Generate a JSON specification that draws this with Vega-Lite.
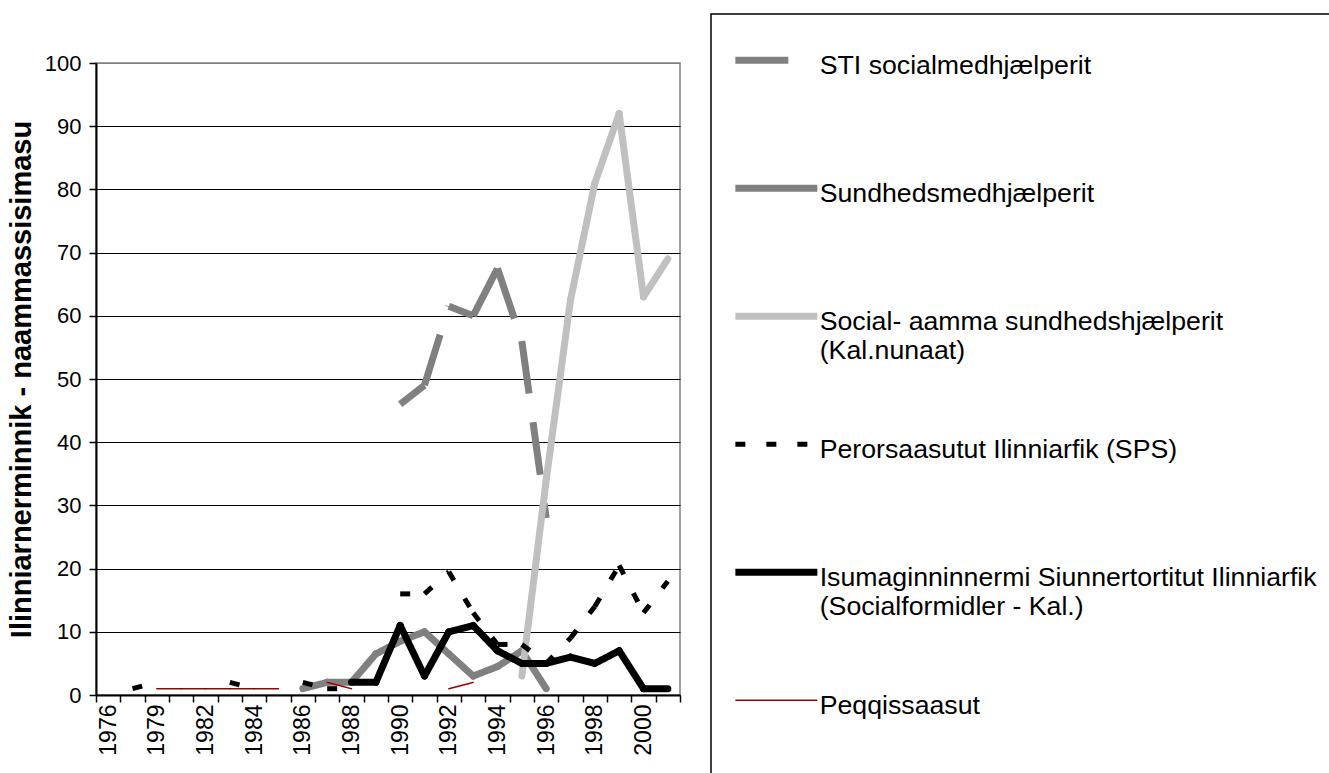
{
  "$schema": "https://vega.github.io/schema/vega-lite/v6.json",
  "width": 584,
  "height": 632,
  "autosize": {"type": "none"},
  "padding": {"left": 96, "top": 63, "right": 649, "bottom": 78},
  "background": "white",
  "config": {
    "view": {"stroke": "#808080", "strokeWidth": 1.5},
    "font": "Liberation Sans"
  },
  "data": {
    "values": [
      {"series": "STI", "year": 1990, "value": 46},
      {"series": "STI", "year": 1991, "value": 49},
      {"series": "STI", "year": 1992, "value": 61.5},
      {"series": "STI", "year": 1993, "value": 60},
      {"series": "STI", "year": 1994, "value": 67.5},
      {"series": "STI", "year": 1995, "value": 56},
      {"series": "STI", "year": 1996, "value": 28},
      {"series": "Sund", "year": 1986, "value": 1},
      {"series": "Sund", "year": 1987, "value": 2},
      {"series": "Sund", "year": 1988, "value": 2},
      {"series": "Sund", "year": 1989, "value": 6.5},
      {"series": "Sund", "year": 1990, "value": 8.5},
      {"series": "Sund", "year": 1991, "value": 10},
      {"series": "Sund", "year": 1992, "value": 6.5},
      {"series": "Sund", "year": 1993, "value": 3},
      {"series": "Sund", "year": 1994, "value": 4.5},
      {"series": "Sund", "year": 1995, "value": 7},
      {"series": "Sund", "year": 1996, "value": 1},
      {"series": "Social", "year": 1995, "value": 3},
      {"series": "Social", "year": 1996, "value": 34},
      {"series": "Social", "year": 1997, "value": 62.5},
      {"series": "Social", "year": 1998, "value": 81},
      {"series": "Social", "year": 1999, "value": 92},
      {"series": "Social", "year": 2000, "value": 63},
      {"series": "Social", "year": 2001, "value": 69},
      {"series": "SPS", "year": 1977, "value": 1},
      {"series": "SPS", "year": 1979, "value": 2},
      {"series": "SPS", "year": 1980, "value": null},
      {"series": "SPS", "year": 1983, "value": 2},
      {"series": "SPS", "year": 1984, "value": 1},
      {"series": "SPS", "year": 1985, "value": null},
      {"series": "SPS", "year": 1986, "value": 2},
      {"series": "SPS", "year": 1987, "value": 1},
      {"series": "SPS", "year": 1988, "value": 1},
      {"series": "SPS", "year": 1989, "value": null},
      {"series": "SPS", "year": 1990, "value": 16},
      {"series": "SPS", "year": 1991, "value": 16},
      {"series": "SPS", "year": 1992, "value": 19.5},
      {"series": "SPS", "year": 1993, "value": 13},
      {"series": "SPS", "year": 1994, "value": 8},
      {"series": "SPS", "year": 1995, "value": 8},
      {"series": "SPS", "year": 1996, "value": 5},
      {"series": "SPS", "year": 1997, "value": 9},
      {"series": "SPS", "year": 1998, "value": 14},
      {"series": "SPS", "year": 1999, "value": 20.5},
      {"series": "SPS", "year": 2000, "value": 13},
      {"series": "SPS", "year": 2001, "value": 18},
      {"series": "Isum", "year": 1988, "value": 2},
      {"series": "Isum", "year": 1989, "value": 2},
      {"series": "Isum", "year": 1990, "value": 11},
      {"series": "Isum", "year": 1991, "value": 3},
      {"series": "Isum", "year": 1992, "value": 10},
      {"series": "Isum", "year": 1993, "value": 11},
      {"series": "Isum", "year": 1994, "value": 7},
      {"series": "Isum", "year": 1995, "value": 5},
      {"series": "Isum", "year": 1996, "value": 5},
      {"series": "Isum", "year": 1997, "value": 6},
      {"series": "Isum", "year": 1998, "value": 5},
      {"series": "Isum", "year": 1999, "value": 7},
      {"series": "Isum", "year": 2000, "value": 1},
      {"series": "Isum", "year": 2001, "value": 1},
      {"series": "Peq", "year": 1979, "value": 1},
      {"series": "Peq", "year": 1980, "value": 1},
      {"series": "Peq", "year": 1982, "value": 1},
      {"series": "Peq", "year": 1983, "value": 1},
      {"series": "Peq", "year": 1984, "value": 1},
      {"series": "Peq", "year": 1985, "value": 1},
      {"series": "Peq", "year": 1986, "value": null},
      {"series": "Peq", "year": 1987, "value": 2},
      {"series": "Peq", "year": 1988, "value": 1},
      {"series": "Peq", "year": 1989, "value": null},
      {"series": "Peq", "year": 1992, "value": 1},
      {"series": "Peq", "year": 1993, "value": 2}
    ]
  },
  "transform": [
    {
      "window": [
        {"op": "lead", "field": "year", "as": "year2"},
        {"op": "lead", "field": "value", "as": "value2"}
      ],
      "groupby": ["series"],
      "sort": [{"field": "year", "order": "ascending"}]
    },
    {"filter": "isValid(datum.value) && isValid(datum.value2)"}
  ],
  "encoding": {
    "x": {
      "field": "year",
      "type": "ordinal",
      "bandPosition": 0.5,
      "scale": {
        "type": "band",
        "paddingInner": 0,
        "paddingOuter": 0,
        "domain": [1976, 1977, 1979, 1980, 1982, 1983, 1984, 1985, 1986, 1987, 1988, 1989, 1990, 1991, 1992, 1993, 1994, 1995, 1996, 1997, 1998, 1999, 2000, 2001]
      },
      "axis": {
        "title": null,
        "labelAngle": -90,
        "tickBand": "extent",
        "labelExpr": "indexof(['1976','1979','1982','1984','1986','1988','1990','1992','1994','1996','1998','2000'], datum.label) >= 0 ? datum.label : ''",
        "labelFont": "Liberation Sans",
        "labelFontSize": 23,
        "labelColor": "black",
        "labelPadding": 2,
        "labelOverlap": false,
        "tickSize": 7,
        "tickColor": "black",
        "tickWidth": 1.5,
        "domainColor": "black",
        "domainWidth": 2,
        "grid": false
      }
    },
    "x2": {"field": "year2", "bandPosition": 0.5},
    "y": {
      "field": "value",
      "type": "quantitative",
      "scale": {"domain": [0, 100], "nice": false, "zero": true},
      "axis": {
        "title": "Ilinniarnerminnik - naammassisimasu",
        "titleFont": "Liberation Sans",
        "titleFontSize": 29,
        "titleFontWeight": "bold",
        "titleColor": "black",
        "titlePadding": 8,
        "values": [0, 10, 20, 30, 40, 50, 60, 70, 80, 90, 100],
        "labelFont": "Liberation Sans",
        "labelFontSize": 22,
        "labelColor": "black",
        "labelPadding": 8,
        "tickSize": 7,
        "tickColor": "black",
        "tickWidth": 1.5,
        "domainColor": "black",
        "domainWidth": 2,
        "grid": true,
        "gridColor": {"condition": {"test": "datum.value === 100", "value": "#808080"}, "value": "black"},
        "gridWidth": 1.2
      }
    },
    "y2": {"field": "value2"},
    "color": {
      "field": "series",
      "type": "nominal",
      "scale": {
        "domain": ["STI", "Sund", "Social", "SPS", "Isum", "Peq"],
        "range": ["#808080", "#808080", "#C0C0C0", "#000000", "#000000", "#990000"]
      },
      "legend": {
        "title": "\u00a0",
        "titleFontSize": 6,
        "titlePadding": 3,
        "orient": "none",
        "legendX": 615,
        "legendY": -49,
        "strokeColor": "black",
        "fillColor": "white",
        "padding": 24,
        "symbolType": "stroke",
        "symbolSize": 6724,
        "symbolOffset": 28,
        "labelFont": "Liberation Sans",
        "labelFontSize": 26.7,
        "labelColor": "black",
        "labelLimit": 1000,
        "labelOffset": 30,
        "labelBaseline": "top",
        "rowPadding": 36,
        "gridAlign": "all",
        "labelExpr": "datum.value === 'STI' ? 'STI socialmedhjælperit' : datum.value === 'Sund' ? 'Sundhedsmedhjælperit' : datum.value === 'Social' ? ['Social- aamma sundhedshjælperit', '(Kal.nunaat)'] : datum.value === 'SPS' ? 'Perorsaasutut Ilinniarfik (SPS)' : datum.value === 'Isum' ? ['Isumaginninnermi Siunnertortitut Ilinniarfik\u00a0\u00a0\u00a0', '(Socialformidler - Kal.)'] : ['Peqqissaasut', '\u00a0', '\u00a0']",
        "encode": {
          "symbols": {"update": {"strokeWidth": {"signal": "datum.value === 'Peq' ? 1.5 : datum.value === 'SPS' ? 5 : 7"}}},
          "labels": {"update": {"dy": {"value": -7}}},
          "legend": {"update": {"strokeWidth": {"value": 1.5}}}
        }
      }
    },
    "strokeDash": {
      "field": "series",
      "type": "nominal",
      "scale": {
        "domain": ["STI", "Sund", "Social", "SPS", "Isum", "Peq"],
        "range": [[53, 29], [1, 0], [1, 0], [10, 21], [1, 0], [1, 0]]
      },
      "legend": {
        "title": "\u00a0",
        "titleFontSize": 6,
        "titlePadding": 3,
        "orient": "none",
        "legendX": 615,
        "legendY": -49,
        "strokeColor": "black",
        "fillColor": "white",
        "padding": 24,
        "symbolType": "stroke",
        "symbolSize": 6724,
        "symbolOffset": 28,
        "labelFont": "Liberation Sans",
        "labelFontSize": 26.7,
        "labelColor": "black",
        "labelLimit": 1000,
        "labelOffset": 30,
        "labelBaseline": "top",
        "rowPadding": 36,
        "gridAlign": "all",
        "labelExpr": "datum.value === 'STI' ? 'STI socialmedhjælperit' : datum.value === 'Sund' ? 'Sundhedsmedhjælperit' : datum.value === 'Social' ? ['Social- aamma sundhedshjælperit', '(Kal.nunaat)'] : datum.value === 'SPS' ? 'Perorsaasutut Ilinniarfik (SPS)' : datum.value === 'Isum' ? ['Isumaginninnermi Siunnertortitut Ilinniarfik\u00a0\u00a0\u00a0', '(Socialformidler - Kal.)'] : ['Peqqissaasut', '\u00a0', '\u00a0']",
        "encode": {
          "symbols": {"update": {"strokeWidth": {"signal": "datum.value === 'Peq' ? 1.5 : datum.value === 'SPS' ? 5 : 7"}}},
          "labels": {"update": {"dy": {"value": -7}}},
          "legend": {"update": {"strokeWidth": {"value": 1.5}}}
        }
      }
    }
  },
  "layer": [
    {"transform": [{"filter": "datum.series === 'STI'"}], "mark": {"type": "rule", "strokeWidth": 7, "strokeCap": "butt"}},
    {"transform": [{"filter": "datum.series === 'Sund'"}], "mark": {"type": "rule", "strokeWidth": 7, "strokeCap": "round"}},
    {"transform": [{"filter": "datum.series === 'Social'"}], "mark": {"type": "rule", "strokeWidth": 7, "strokeCap": "round"}},
    {"transform": [{"filter": "datum.series === 'SPS'"}], "mark": {"type": "rule", "strokeWidth": 5, "strokeCap": "butt"}},
    {"transform": [{"filter": "datum.series === 'Isum'"}], "mark": {"type": "rule", "strokeWidth": 7, "strokeCap": "round"}},
    {"transform": [{"filter": "datum.series === 'Peq'"}], "mark": {"type": "rule", "strokeWidth": 1.5, "strokeCap": "round"}}
  ]
}
